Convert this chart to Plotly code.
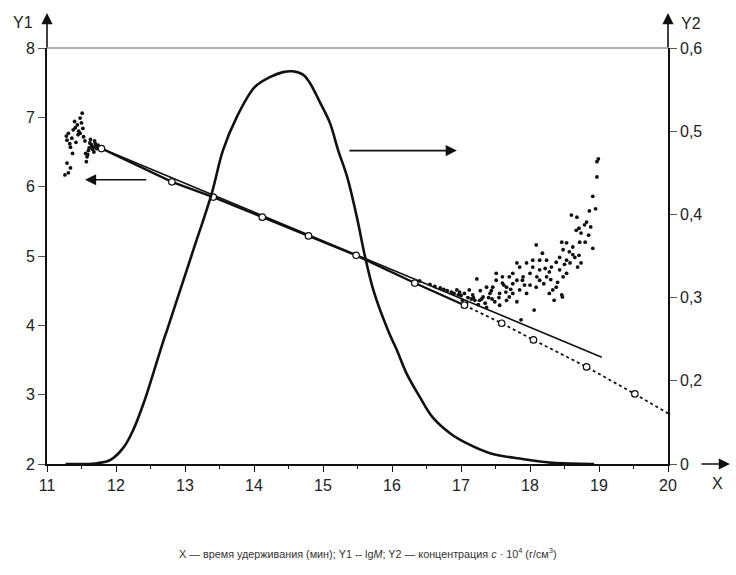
import plotly.graph_objects as go

# ---- data ----
# calibration points (open circles), Y1 = lgM
cal_x = [11.79, 12.81, 13.41, 14.12, 14.79, 15.48, 16.33, 17.05, 17.59, 18.05, 18.82, 19.52]
cal_y = [6.55, 6.07, 5.85, 5.56, 5.29, 5.01, 4.61, 4.29, 4.03, 3.79, 3.40, 3.01]
# dotted extension end
dot_end_x = [20.0]
dot_end_y = [2.73]
# straight fitted line (solid)
fit_x = [11.79, 19.04]
fit_y = [6.55, 3.54]

# scattered measured lgM points, left group
left_x = [11.51, 11.48, 11.44, 11.38, 11.31, 11.29, 11.34, 11.37, 11.29, 11.34, 11.26, 11.31,
          11.67, 11.58, 11.57, 11.48, 11.53, 11.62, 11.65, 11.70, 11.72, 11.60, 11.55, 11.41,
          11.46, 11.36, 11.63, 11.68, 11.74, 11.50, 11.33, 11.28, 11.42, 11.56, 11.66, 11.69,
          11.71, 11.64, 11.61, 11.59, 11.45, 11.40, 11.52, 11.76]
left_y = [7.06, 6.99, 6.89, 6.82, 6.77, 6.67, 6.57, 6.48, 6.34, 6.27, 6.17, 6.20,
          6.57, 6.43, 6.36, 6.77, 6.72, 6.63, 6.58, 6.62, 6.55, 6.52, 6.66, 6.85,
          6.80, 6.70, 6.68, 6.50, 6.60, 6.92, 6.62, 6.73, 6.64, 6.48, 6.54, 6.66,
          6.59, 6.61, 6.56, 6.46, 6.75, 6.94, 6.84, 6.57]

# scattered measured lgM points, right group
right_x = [18.97, 18.99, 18.97, 18.91, 18.95, 18.86, 18.60, 18.68, 18.82, 18.79, 18.71, 18.67,
           18.74, 18.91, 18.72, 18.62, 18.53, 18.46, 18.48, 18.57, 18.71, 18.74, 18.69, 18.53,
           18.43, 18.38, 18.31, 18.09, 18.18, 18.24, 18.28, 18.43, 18.48, 18.53, 18.38, 18.46,
           18.33, 18.24, 18.14, 18.04, 18.00, 17.95, 17.85, 17.81, 17.75, 18.14, 18.09, 18.00,
           17.95, 18.06, 18.35, 18.28, 17.85, 17.75, 17.66, 17.60, 17.51, 17.51, 17.46, 17.56,
           17.42, 17.37, 17.23, 17.32, 17.66, 17.81, 17.49, 17.27, 17.17, 17.12, 17.05, 16.98,
           16.94, 17.37, 17.56, 17.70, 17.89, 17.81, 17.70, 17.60, 18.04, 18.14, 17.87, 18.47,
           16.40, 16.55, 16.70, 16.80, 16.90, 17.00, 17.10, 17.15, 17.20, 17.30, 17.40, 17.45,
           17.35, 17.25, 17.55, 17.65, 17.75, 17.90, 18.20, 18.30, 18.40, 18.58, 18.65, 18.80,
           18.85, 18.88, 17.02, 17.08, 17.18, 17.28, 17.44, 17.62, 17.72, 17.92, 18.10, 18.22,
           18.50, 18.62, 16.62, 16.75, 16.86, 16.96]
right_y = [6.36, 6.40, 6.14, 5.86, 5.68, 5.65, 5.59, 5.56, 5.49, 5.45, 5.40, 5.37,
           5.33, 5.11, 5.20, 5.13, 5.19, 5.20, 5.09, 5.06, 5.01, 4.90, 4.84, 4.94,
           4.98, 4.91, 4.84, 5.16, 5.04, 4.94, 4.77, 4.80, 4.70, 4.75, 4.55, 4.44,
           4.51, 4.70, 4.80, 4.84, 4.75, 4.90, 4.84, 4.90, 4.75, 4.65, 4.55, 4.58,
           4.46, 4.22, 4.36, 4.46, 4.51, 4.46, 4.55, 4.70, 4.75, 4.65, 4.55, 4.46,
           4.46, 4.55, 4.67, 4.41, 4.36, 4.34, 4.34, 4.36, 4.44, 4.51, 4.46, 4.48,
           4.51, 4.26, 4.29, 4.41, 4.65, 4.65, 4.70, 4.61, 4.94, 4.94, 4.08, 4.41,
           4.64, 4.59, 4.54, 4.50, 4.46, 4.43, 4.40, 4.38, 4.36, 4.38, 4.40, 4.38,
           4.32, 4.30, 4.40, 4.48, 4.60, 4.70, 4.60, 4.66, 4.62, 4.90, 4.98, 5.20,
           5.30, 5.42, 4.36, 4.32, 4.40, 4.50, 4.50, 4.58, 4.52, 4.58, 4.70, 4.82,
           4.88, 5.02, 4.56, 4.52, 4.48, 4.44]

# concentration curve, Y2
conc_x = [11.27, 11.50, 11.73, 11.92, 12.11, 12.25, 12.40, 12.54, 12.69, 12.74, 12.93, 13.12,
          13.39, 13.55, 13.75, 14.01, 14.23, 14.42, 14.56, 14.71, 14.81, 14.96, 15.10, 15.22,
          15.35, 15.49, 15.61, 15.73, 15.94, 16.07, 16.21, 16.40, 16.59, 16.84, 17.08, 17.42,
          17.89, 18.38, 18.93]
conc_y = [0.100, 0.100, 0.101, 0.105, 0.120, 0.141, 0.173, 0.209, 0.249, 0.261, 0.309, 0.357,
          0.426, 0.477, 0.517, 0.553, 0.565, 0.571, 0.572, 0.568, 0.558, 0.534, 0.510, 0.477,
          0.445, 0.397, 0.349, 0.309, 0.261, 0.237, 0.209, 0.181, 0.156, 0.137, 0.125, 0.113,
          0.106, 0.101, 0.100]

x_ticks = [11, 12, 13, 14, 15, 16, 17, 18, 19, 20]
y1_ticks = [2, 3, 4, 5, 6, 7, 8]
y2_ticks = [0.1, 0.2, 0.3, 0.4, 0.5, 0.6]
y2_labels = ["0", "0,2", "0,3", "0,4", "0,5", "0,6"]

FONT = "Liberation Sans, Arial, sans-serif"
INK = "#111111"

fig = go.Figure()

# concentration peak on Y2
fig.add_trace(go.Scatter(x=conc_x, y=conc_y, mode="lines", yaxis="y2",
                         line=dict(color=INK, width=2.6, shape="spline", smoothing=1.0),
                         hoverinfo="skip", showlegend=False))

# straight fitted line
fig.add_trace(go.Scatter(x=fit_x, y=fit_y, mode="lines",
                         line=dict(color=INK, width=1.6), showlegend=False))

# thick part through the calibration points
fig.add_trace(go.Scatter(x=cal_x[:8], y=cal_y[:8], mode="lines",
                         line=dict(color=INK, width=2.4), showlegend=False))

# dotted extension
fig.add_trace(go.Scatter(x=cal_x[7:] + dot_end_x, y=cal_y[7:] + dot_end_y, mode="lines",
                         line=dict(color=INK, width=1.8, dash="dot"), showlegend=False))

# scattered measured points
fig.add_trace(go.Scatter(x=left_x, y=left_y, mode="markers",
                         marker=dict(color=INK, size=3.8), showlegend=False))
fig.add_trace(go.Scatter(x=right_x, y=right_y, mode="markers",
                         marker=dict(color=INK, size=3.8), showlegend=False))

# calibration circles
fig.add_trace(go.Scatter(x=cal_x, y=cal_y, mode="markers",
                         marker=dict(color="white", size=6.5, symbol="circle",
                                     line=dict(color=INK, width=1.2)), showlegend=False))

fig.update_layout(
    width=736, height=575,
    margin=dict(l=47, r=68, t=48, b=111, pad=0),
    paper_bgcolor="white", plot_bgcolor="white",
    font=dict(family=FONT, size=16, color="#222222"),
    xaxis=dict(range=[11, 20], tickvals=x_ticks, showgrid=False, zeroline=False,
               showline=True, linecolor=INK, linewidth=1.6,
               ticks="outside", ticklen=6, tickwidth=1.2, tickcolor=INK,
               minor=dict(dtick=0.5, tick0=11, ticks="outside", ticklen=3, tickcolor=INK, showgrid=False),
               tickfont=dict(size=16)),
    yaxis=dict(range=[2, 8], tickvals=y1_ticks, showgrid=False, zeroline=False,
               showline=True, linecolor=INK, linewidth=1.6,
               ticks="outside", ticklen=7, tickwidth=1.0, tickcolor="#555555",
               tickfont=dict(size=16)),
    yaxis2=dict(range=[0.1, 0.6], tickvals=y2_ticks, ticktext=y2_labels, overlaying="y",
                side="right", showgrid=False, zeroline=False,
                showline=True, linecolor=INK, linewidth=1.6,
                ticks="outside", ticklen=7, tickwidth=1.0, tickcolor="#555555",
                tickfont=dict(size=16)),
    showlegend=False,
)

# thin top line at Y1 = 8
fig.add_shape(type="line", xref="paper", yref="paper", x0=0, x1=1, y0=1, y1=1,
              line=dict(color="#666666", width=1.2))

arrow_common = dict(text="", showarrow=True, arrowhead=2, arrowsize=1.4,
                    arrowwidth=1.6, arrowcolor=INK, standoff=0, startstandoff=0)
# axis arrows
fig.add_annotation(xref="paper", yref="paper", x=0, y=1.084, ax=0, ay=36, **arrow_common)
fig.add_annotation(xref="paper", yref="paper", x=1, y=1.084, ax=0, ay=36, **arrow_common)
fig.add_annotation(xref="paper", yref="paper", x=1.0998, y=0, ax=-30, ay=0, **arrow_common)

# arrows inside the plot
fig.add_annotation(xref="x", yref="y", x=11.55, y=6.10, axref="x", ayref="y",
                   ax=12.46, ay=6.10, **arrow_common)
fig.add_annotation(xref="x", yref="y", x=16.94, y=6.52, axref="x", ayref="y",
                   ax=15.36, ay=6.52, **arrow_common)

lab = dict(showarrow=False, xanchor="center", yanchor="middle",
           xref="paper", yref="paper", font=dict(size=16, color="#222222"))
# axis titles
fig.add_annotation(x=-0.038, y=1.0625, text="Y1", **lab)
fig.add_annotation(x=1.037, y=1.060, text="Y2", **lab)
fig.add_annotation(x=1.0805, y=-0.046, text="X", **lab)

# caption
fig.add_annotation(xref="paper", yref="paper", x=0.517, y=-0.214, xanchor="center", yanchor="middle",
                   text="X — время удерживания (мин); Y1 -- lg<i>M</i>; Y2 — концентрация <i>c</i> · 10<sup>4</sup> (г/см<sup>3</sup>)",
                   showarrow=False, font=dict(size=10.8, color="#333333"))

fig.write_html("out.html", post_script="document.body.style.margin='0';",
               config={"displayModeBar": False})
